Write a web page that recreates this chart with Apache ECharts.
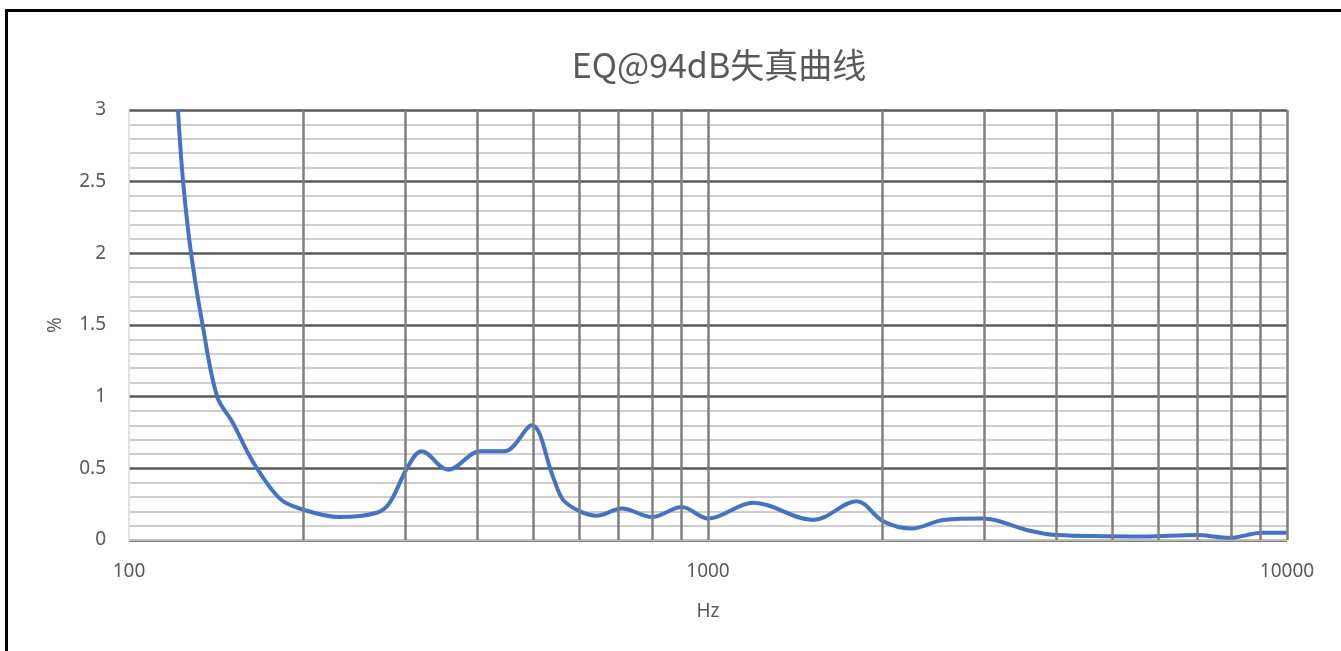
<!DOCTYPE html>
<html>
<head>
<meta charset="utf-8">
<title>EQ@94dB失真曲线</title>
<script src="https://cdn.jsdelivr.net/npm/echarts@6/dist/echarts.min.js"></script>
<style>
  html, body { margin: 0; padding: 0; background: #fff; overflow: hidden; }
  #chart { position: absolute; left: 0; top: 0; width: 1341px; height: 651px; }
  /* black frame, only top and left edge visible in the picture */
  #frame { position: absolute; left: 5px; top: 9px; width: 1400px; height: 700px;
           border: 3px solid #000; box-sizing: border-box; pointer-events: none; }
</style>
</head>
<body>
<div id="chart"></div>
<div id="frame"></div>
<script>
  // frequency (Hz) and distortion (%)
  var freqHz = [121.5, 124, 128, 134, 142, 151, 164, 182, 197, 231, 268, 282, 303, 320, 356, 404, 446, 496,
    540, 562, 601, 642, 710, 800, 901, 1000, 1197, 1520, 1806, 2008, 2248, 2550, 2990, 3550, 4000,
    5650, 6980, 7970, 9040, 10000]
  var thdPct = [3.0, 2.5, 2.0, 1.5, 1.0, 0.82, 0.54, 0.29, 0.22, 0.16, 0.19, 0.26, 0.51, 0.62, 0.49, 0.62, 0.62, 0.80,
    0.44, 0.28, 0.20, 0.17, 0.22, 0.16, 0.23, 0.15, 0.26, 0.14, 0.27, 0.13, 0.08, 0.14, 0.15, 0.07, 0.035,
    0.025, 0.035, 0.015, 0.05, 0.05]
  // vertical grid lines (log grid)
  var gridFreqs = [200, 300, 400, 500, 600, 700, 800, 900, 1000,
    2000, 3000, 4000, 5000, 6000, 7000, 8000, 9000, 10000]

  var textColor = '#595959'
  var font = '"Noto Sans", "Noto Sans CJK SC", sans-serif'

  var points = freqHz.map(function (f, i) { return [f, thdPct[i]] })

  var myChart = echarts.init(document.getElementById('chart'))
  myChart.setOption({
    animation: false,
    title: {
      text: 'EQ@94dB失真曲线',
      left: 714,
      top: 43,
      textAlign: 'center',
      textStyle: { color: textColor, fontSize: 34, fontWeight: 'normal', fontFamily: '"Noto Sans CJK SC", sans-serif' }
    },
    grid: {
      left: 129,
      right: 54,
      top: 110,
      bottom: 111
    },
    xAxis: {
      type: 'log',
      logBase: 10,
      min: 100,
      max: 10000,
      name: 'Hz',
      nameLocation: 'middle',
      nameGap: 62,
      nameTextStyle: { color: textColor, fontSize: 19, fontFamily: font },
      axisLine: { show: true, lineStyle: { color: '#d9d9d9', width: 1.5 } },
      axisTick: { show: false },
      axisLabel: {
        color: textColor, fontSize: 19, fontFamily: font, margin: 22,
        formatter: function (v) { return String(Math.round(v)) }
      },
      splitLine: { show: false }
    },
    yAxis: {
      type: 'value',
      min: 0,
      max: 3,
      interval: 0.5,
      name: '%',
      nameLocation: 'middle',
      nameGap: 64,
      nameTextStyle: { color: textColor, fontSize: 19, fontFamily: font },
      axisLine: { show: true, lineStyle: { color: '#d9d9d9', width: 1.5 } },
      axisTick: { show: false },
      axisLabel: { color: textColor, fontSize: 19, fontFamily: font, margin: 23 },
      splitLine: { show: true, lineStyle: { color: '#595959', width: 2.5 } },
      minorTick: { show: false, splitNumber: 5 },
      minorSplitLine: { show: true, lineStyle: { color: '#bfbfbf', width: 1.5 } }
    },
    series: [
      {
        name: 'grid',
        type: 'line',
        data: [],
        z: 1,
        silent: true,
        markLine: {
          silent: true,
          symbol: 'none',
          label: { show: false },
          lineStyle: { color: '#7f7f7f', width: 2.5, type: 'solid' },
          data: gridFreqs.map(function (f) { return { xAxis: f } })
        }
      },
      {
        name: 'THD',
        type: 'line',
        z: 3,
        data: points,
        smooth: 0.35,
        showSymbol: false,
        clip: true,
        lineStyle: { color: '#4472c4', width: 4 }
      }
    ]
  })
</script>
</body>
</html>
